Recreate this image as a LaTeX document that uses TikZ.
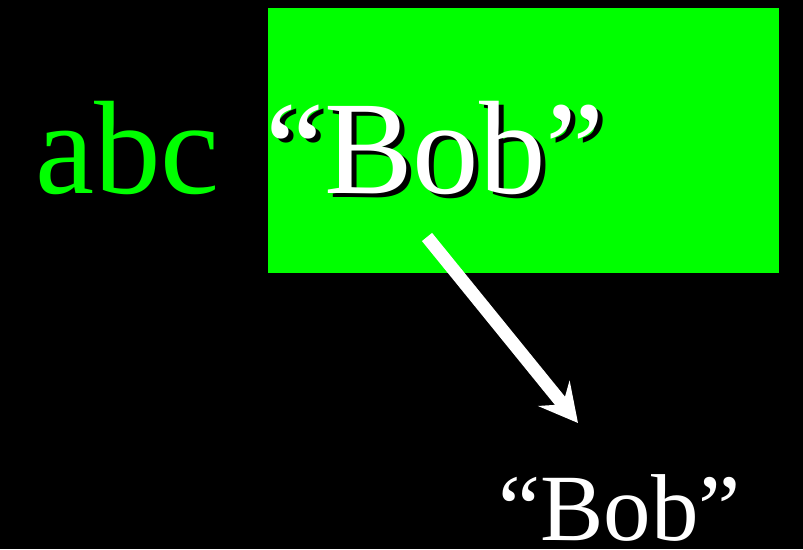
\documentclass[tikz,border=0pt]{standalone}
\usepackage{fontspec}
\setmainfont{Liberation Serif}
\usetikzlibrary{arrows.meta}
\definecolor{cgreen}{HTML}{00FF00}
\tikzset{
  big/.style={font=\fontsize{133}{133}\selectfont, inner sep=0pt, anchor=base west},
  small/.style={font=\fontsize{95}{95}\selectfont, inner sep=0pt, anchor=base west, text=white},
  shadow/.style={big, text=black},
  arrow/.style={-{Stealth[length=38pt, width=40pt, inset=14pt]}, draw=white, line width=13pt},
}
\begin{document}
\begin{tikzpicture}[x=1pt, y=-1pt]
  % background and frame
  \fill[black] (0,0) rectangle (803,549);
  \useasboundingbox (0,0) rectangle (803,549);
  \fill[cgreen] (268,8) rectangle (779,273);
  % texts
  \node[big, text=cgreen] (abc) at (35,193) {abc};
  \node[shadow] (bobshadow) at (270,197) {“Bob”};
  \node[big, text=white] (bob) at (265,193) {“Bob”};
  \node[small] (bob2) at (498,540) {“Bob”};
  % arrow
  \coordinate (from) at (427,237);
  \coordinate (to) at (578,423);
  \draw[arrow] (from) -- (to);
\end{tikzpicture}
\end{document}
